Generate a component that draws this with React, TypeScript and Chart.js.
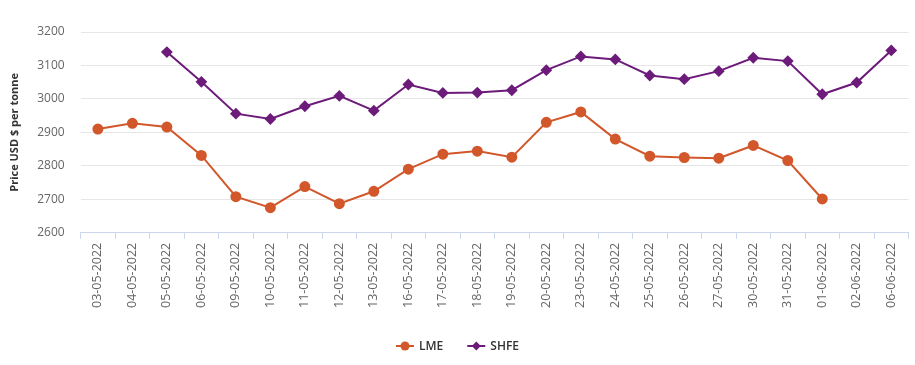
import React, { useEffect, useRef } from "react";
import { Chart, registerables } from "chart.js";

Chart.register(...registerables);

const categories = [
  "03-05-2022", "04-05-2022", "05-05-2022", "06-05-2022", "09-05-2022", "10-05-2022",
  "11-05-2022", "12-05-2022", "13-05-2022", "16-05-2022", "17-05-2022", "18-05-2022",
  "19-05-2022", "20-05-2022", "23-05-2022", "24-05-2022", "25-05-2022", "26-05-2022",
  "27-05-2022", "30-05-2022", "31-05-2022", "01-06-2022", "02-06-2022", "06-06-2022",
];

const lmeValues: (number | null)[] = [
  2910, 2927, 2916, 2831, 2708, 2675, 2738, 2687, 2724, 2790, 2835, 2844,
  2826, 2930, 2961, 2880, 2829, 2825, 2823, 2861, 2816, 2701, null, null,
];

const shfeValues: (number | null)[] = [
  null, null, 3140, 3051, 2956, 2940, 2978, 3009, 2965, 3043, 3018, 3019,
  3026, 3086, 3127, 3118, 3070, 3059, 3083, 3123, 3113, 3014, 3049, 3145,
];

const yTitle = "Price USD $ per tonne";
const LME_COLOR = "#d2572b";
const SHFE_COLOR = "#6d1b7b";
const FONT = "'Open Sans', 'Noto Sans', sans-serif";

const legendPlugin = {
  id: "customLegend",
  afterDraw(chart: any) {
    const ctx = chart.ctx;
    const items = chart.data.datasets.map((d: any) => ({
      label: d.label,
      color: d.borderColor,
      style: d.pointStyle,
    }));
    ctx.save();
    ctx.font = `600 12px ${FONT}`;
    const y = 346;
    const symW = 18;
    const gap = 5;
    const itemGap = 24;
    const widths = items.map((it: any) => symW + gap + ctx.measureText(it.label).width);
    const total = widths.reduce((a: number, b: number) => a + b, 0) + itemGap * (items.length - 1);
    let x = chart.width / 2 - total / 2;
    items.forEach((it: any, i: number) => {
      ctx.strokeStyle = it.color;
      ctx.fillStyle = it.color;
      ctx.lineWidth = 2;
      ctx.beginPath();
      ctx.moveTo(x, y);
      ctx.lineTo(x + symW, y);
      ctx.stroke();
      const cx = x + symW / 2;
      ctx.beginPath();
      if (it.style === "rectRot") {
        const r = 4.5;
        ctx.moveTo(cx, y - r);
        ctx.lineTo(cx + r, y);
        ctx.lineTo(cx, y + r);
        ctx.lineTo(cx - r, y);
        ctx.closePath();
      } else {
        ctx.arc(cx, y, 4.5, 0, Math.PI * 2);
      }
      ctx.fill();
      ctx.fillStyle = "#333333";
      ctx.textBaseline = "middle";
      ctx.textAlign = "left";
      ctx.fillText(it.label, x + symW + gap, y + 1);
      x += widths[i] + itemGap;
    });
    ctx.restore();
  },
};

export default function App() {
  const canvasRef = useRef<HTMLCanvasElement | null>(null);

  useEffect(() => {
    document.body.style.margin = "0";
    const canvas = canvasRef.current;
    if (!canvas) return;
    const chart = new Chart(canvas, {
      type: "line",
      data: {
        labels: categories,
        datasets: [
          {
            label: "LME",
            data: lmeValues,
            borderColor: LME_COLOR,
            backgroundColor: LME_COLOR,
            borderWidth: 2,
            pointStyle: "circle",
            pointRadius: 4.5,
            pointHoverRadius: 4.5,
            tension: 0,
            spanGaps: false,
          },
          {
            label: "SHFE",
            data: shfeValues,
            borderColor: SHFE_COLOR,
            backgroundColor: SHFE_COLOR,
            borderWidth: 2,
            pointStyle: "rectRot",
            pointRadius: 4.5,
            pointHoverRadius: 4.5,
            tension: 0,
            spanGaps: false,
          },
        ],
      },
      options: {
        animation: false,
        responsive: false,
        maintainAspectRatio: false,
        layout: { padding: { top: 32, right: 5, bottom: 53, left: 8 } },
        plugins: {
          legend: { display: false },
          tooltip: { enabled: false },
        },
        scales: {
          x: {
            offset: true,
            grid: {
              display: true,
              drawOnChartArea: false,
              drawTicks: true,
              tickLength: 6,
              color: "#ccd6eb",
              offset: true,
            },
            border: { color: "#ccd6eb", width: 1 },
            ticks: {
              autoSkip: false,
              maxRotation: 90,
              minRotation: 90,
              color: "#666666",
              font: { family: FONT, size: 12.5 },
              padding: 4,
            },
          },
          y: {
            min: 2600,
            max: 3200,
            ticks: {
              stepSize: 100,
              color: "#666666",
              font: { family: FONT, size: 12 },
              padding: 16,
              callback: (v: any) => String(v),
            },
            grid: { color: "#e6e6e6", drawTicks: false },
            border: { display: false },
            title: {
              display: true,
              text: yTitle,
              color: "#333333",
              font: { family: FONT, size: 11, weight: "bold" },
              padding: { top: 0, bottom: 0 },
            },
          },
        },
      },
      plugins: [legendPlugin],
    });
    return () => chart.destroy();
  }, []);

  return (
    <div style={{ width: 915, height: 365 }}>
      <canvas ref={canvasRef} width={915} height={365} style={{ display: "block" }} />
    </div>
  );
}
